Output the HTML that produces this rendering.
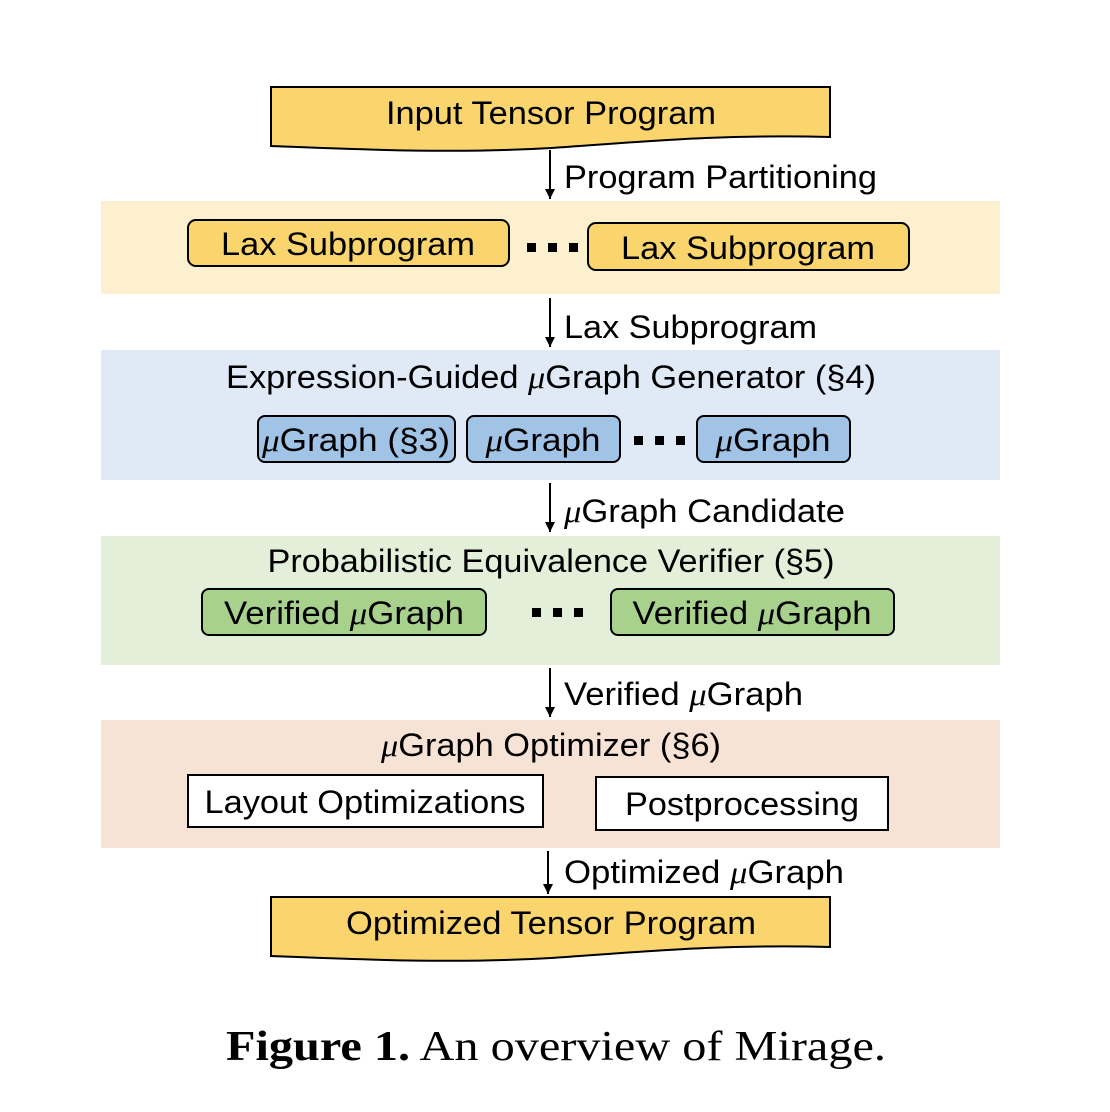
<!DOCTYPE html>
<html><head><meta charset="utf-8"><style>
html,body{margin:0;padding:0;background:#fff;}
svg{display:block;}
text{font-family:"Liberation Sans",sans-serif;font-size:32px;fill:#000;}
.i{font-family:"Liberation Serif",serif;font-style:italic;}
</style></head><body>
<svg width="1110" height="1112" viewBox="0 0 1110 1112" xmlns="http://www.w3.org/2000/svg">
<defs><marker id="a" markerWidth="10" markerHeight="10" refX="10" refY="5" orient="auto" markerUnits="userSpaceOnUse"><path d="M0,0 L10,5 L0,10 Z" fill="#000"/></marker></defs>
<rect x="101" y="201" width="899" height="93" fill="#FDF0CE"/>
<rect x="101" y="350" width="899" height="130" fill="#DFEAF6"/>
<rect x="101" y="536" width="899" height="129" fill="#E3EFD9"/>
<rect x="101" y="720" width="899" height="128" fill="#F7E3D6"/>
<path d="M271,87 H830 V137 C720,134 640,142 551,148 C450,154 350,149 271,146 Z" fill="#FAD56D" stroke="#000" stroke-width="2"/>
<text x="551" y="124" text-anchor="middle" textLength="330" lengthAdjust="spacingAndGlyphs">Input Tensor Program</text>
<line x1="550" y1="150" x2="550" y2="199" stroke="#000" stroke-width="2" marker-end="url(#a)"/>
<text x="564" y="188" textLength="313" lengthAdjust="spacingAndGlyphs">Program Partitioning</text>
<line x1="550" y1="298" x2="550" y2="347" stroke="#000" stroke-width="2" marker-end="url(#a)"/>
<text x="564" y="338" textLength="253" lengthAdjust="spacingAndGlyphs">Lax Subprogram</text>
<line x1="550" y1="483" x2="550" y2="532" stroke="#000" stroke-width="2" marker-end="url(#a)"/>
<text x="564" y="522" textLength="281" lengthAdjust="spacingAndGlyphs"><tspan class="i">μ</tspan>Graph Candidate</text>
<line x1="550" y1="668" x2="550" y2="717" stroke="#000" stroke-width="2" marker-end="url(#a)"/>
<text x="564" y="705" textLength="239" lengthAdjust="spacingAndGlyphs">Verified <tspan class="i">μ</tspan>Graph</text>
<line x1="548" y1="851" x2="548" y2="894" stroke="#000" stroke-width="2" marker-end="url(#a)"/>
<text x="564" y="883" textLength="280" lengthAdjust="spacingAndGlyphs">Optimized <tspan class="i">μ</tspan>Graph</text>
<rect x="188" y="220" width="321" height="46" rx="8" fill="#FAD56D" stroke="#000" stroke-width="2"/>
<text x="348" y="255" text-anchor="middle" textLength="254" lengthAdjust="spacingAndGlyphs">Lax Subprogram</text>
<rect x="588" y="223" width="321" height="47" rx="8" fill="#FAD56D" stroke="#000" stroke-width="2"/>
<text x="748" y="259" text-anchor="middle" textLength="254" lengthAdjust="spacingAndGlyphs">Lax Subprogram</text>
<g fill="#000"><rect x="527" y="243" width="9" height="9"/><rect x="548" y="243" width="9" height="9"/><rect x="569" y="243" width="9" height="9"/></g>
<text x="551" y="388" text-anchor="middle" textLength="650" lengthAdjust="spacingAndGlyphs">Expression-Guided <tspan class="i">μ</tspan>Graph Generator (§4)</text>
<rect x="258" y="416" width="197" height="46" rx="7" fill="#A0C3E6" stroke="#000" stroke-width="2"/>
<text x="356" y="451" text-anchor="middle" textLength="188" lengthAdjust="spacingAndGlyphs"><tspan class="i">μ</tspan>Graph (§3)</text>
<rect x="467" y="416" width="153" height="46" rx="7" fill="#A0C3E6" stroke="#000" stroke-width="2"/>
<text x="543" y="451" text-anchor="middle" textLength="115" lengthAdjust="spacingAndGlyphs"><tspan class="i">μ</tspan>Graph</text>
<rect x="697" y="416" width="153" height="46" rx="7" fill="#A0C3E6" stroke="#000" stroke-width="2"/>
<text x="773" y="451" text-anchor="middle" textLength="115" lengthAdjust="spacingAndGlyphs"><tspan class="i">μ</tspan>Graph</text>
<g fill="#000"><rect x="634" y="436" width="9" height="9"/><rect x="655" y="436" width="9" height="9"/><rect x="676" y="436" width="9" height="9"/></g>
<text x="551" y="572" text-anchor="middle" textLength="567" lengthAdjust="spacingAndGlyphs">Probabilistic Equivalence Verifier (§5)</text>
<rect x="202" y="589" width="284" height="46" rx="7" fill="#A8D18D" stroke="#000" stroke-width="2"/>
<text x="344" y="624" text-anchor="middle" textLength="240" lengthAdjust="spacingAndGlyphs">Verified <tspan class="i">μ</tspan>Graph</text>
<rect x="611" y="589" width="283" height="46" rx="7" fill="#A8D18D" stroke="#000" stroke-width="2"/>
<text x="752" y="624" text-anchor="middle" textLength="239" lengthAdjust="spacingAndGlyphs">Verified <tspan class="i">μ</tspan>Graph</text>
<g fill="#000"><rect x="532" y="608" width="9" height="9"/><rect x="553" y="608" width="9" height="9"/><rect x="574" y="608" width="9" height="9"/></g>
<text x="551" y="756" text-anchor="middle" textLength="340" lengthAdjust="spacingAndGlyphs"><tspan class="i">μ</tspan>Graph Optimizer (§6)</text>
<rect x="188" y="775" width="355" height="52" fill="#fff" stroke="#000" stroke-width="2"/>
<text x="365" y="813" text-anchor="middle" textLength="321" lengthAdjust="spacingAndGlyphs">Layout Optimizations</text>
<rect x="596" y="777" width="292" height="53" fill="#fff" stroke="#000" stroke-width="2"/>
<text x="742" y="815" text-anchor="middle" textLength="234" lengthAdjust="spacingAndGlyphs">Postprocessing</text>
<path d="M271,897 H830 V947 C720,944 640,952 551,958 C450,964 350,959 271,956 Z" fill="#FAD56D" stroke="#000" stroke-width="2"/>
<text x="551" y="934" text-anchor="middle" textLength="410" lengthAdjust="spacingAndGlyphs">Optimized Tensor Program</text>
<text x="556" y="1060" text-anchor="middle" textLength="660" lengthAdjust="spacingAndGlyphs" style="font-family:'Liberation Serif',serif;font-size:42px;"><tspan font-weight="bold">Figure 1.</tspan> An overview of Mirage.</text>
</svg>
</body></html>
